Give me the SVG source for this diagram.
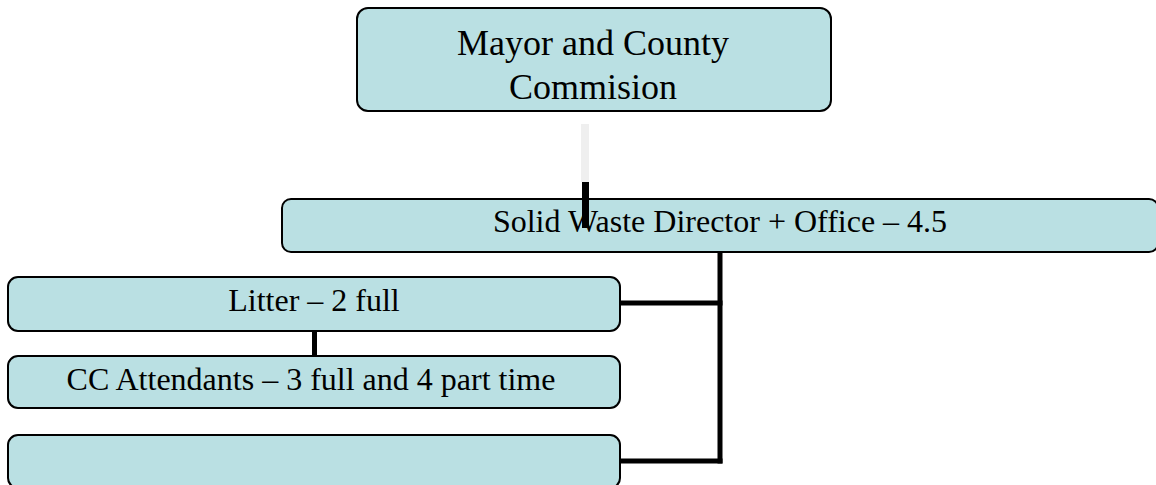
<svg xmlns="http://www.w3.org/2000/svg" width="1156" height="485" viewBox="0 0 1156 485">
<style>
.box{fill:#bae0e3;stroke:#000;stroke-width:2}
.t{font-family:"Liberation Serif","Times New Roman",serif;fill:#000;text-anchor:middle}
.c{stroke:#000;stroke-width:5;fill:none}
</style>
<rect width="1156" height="485" fill="#fff"/>
<g id="mayor">
<rect class="box" x="357" y="8" width="474" height="103" rx="11"/>
<text class="t" x="593" y="55" font-size="36">Mayor and County</text>
<text class="t" x="593" y="99" font-size="36">Commision</text>
</g>
<g id="director">
<rect class="box" x="282" y="199" width="876" height="53" rx="9"/>
<text class="t" x="720" y="232" font-size="32">Solid Waste Director + Office – 4.5</text>
</g>
<g id="litter">
<rect class="box" x="8" y="277" width="612" height="54" rx="10"/>
<text class="t" x="314" y="311" font-size="32">Litter – 2 full</text>
</g>
<g id="cc">
<rect class="box" x="8" y="356" width="612" height="52" rx="10"/>
<text class="t" x="311" y="390" font-size="32">CC Attendants – 3 full and 4 part time</text>
</g>
<g id="empty">
<rect class="box" x="8" y="435" width="612" height="53" rx="10"/>
</g>
<g id="connectors">
<line x1="585" y1="124" x2="585" y2="182" stroke="#efefef" stroke-width="8"/>
<line x1="585.5" y1="182" x2="585.5" y2="228" stroke="#000" stroke-width="7"/>
<polyline class="c" points="720,253 720,463.5"/>
<line class="c" x1="621" y1="303" x2="722.5" y2="303"/>
<line class="c" x1="621" y1="461" x2="722.5" y2="461"/>
<line class="c" x1="314.5" y1="332" x2="314.5" y2="355"/>
</g>
</svg>
